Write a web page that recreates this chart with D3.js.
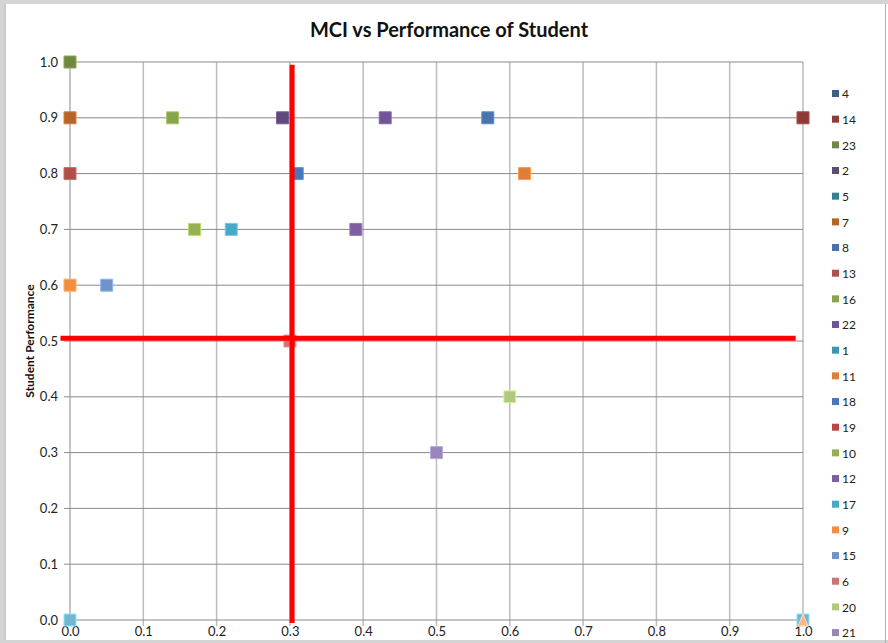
<!DOCTYPE html>
<html>
<head>
<meta charset="utf-8">
<script src="https://cdn.jsdelivr.net/npm/d3@7"></script>
<style>
  body { margin: 0; background: #fff; }
  svg { display: block; font-family: Lato, "Open Sans", sans-serif; }
</style>
</head>
<body>
<div id="chart"></div>
<script>
const width = 888;
const height = 643;

// series names in legend order
const seriesNames = ["4", "14", "23", "2", "5", "7", "8", "13", "16", "22", "1",
                     "11", "18", "19", "10", "12", "17", "9", "15", "6", "20", "21", "3", "24"];
const seriesColors = ["#3b5e8e", "#8e3a38", "#71893f", "#5e4b7c", "#357f93", "#b5652a",
                      "#4a73ae", "#b0504d", "#8aa34e", "#6f5596", "#3e97ae", "#dd7f38",
                      "#4876b8", "#ba4744", "#95b153", "#7d5fa0", "#46aac5", "#f48c42",
                      "#7293c9", "#cc7471", "#afc97f", "#9886b8", "#72b7cf", "#f9b590"];
// MCI value and student performance per series (null = no visible point)
const mciValues = [null, 1.0, 0.0, 0.29, null, 0.0, 0.57, 0.0, 0.14, 0.43, null,
                   0.62, 0.31, null, 0.17, 0.39, 0.22, 0.0, 0.05, 0.30, 0.60, 0.50, 0.0, 1.0];
const perfValues = [null, 0.9, 1.0, 0.9, null, 0.9, 0.9, 0.8, 0.9, 0.9, null,
                    0.8, 0.8, null, 0.7, 0.7, 0.7, 0.6, 0.6, 0.5, 0.4, 0.3, 0.0, 0.0];
const extraPoints = [{ name: "3", x: 1.0, y: 0.0 }]; // second point of series 3
const markerShapes = seriesNames.map(n => n === "24" ? "triangle" : "square");

const xTicks = [0, 0.1, 0.2, 0.3, 0.4, 0.5, 0.6, 0.7, 0.8, 0.9, 1.0];
const yTicks = [0, 0.1, 0.2, 0.3, 0.4, 0.5, 0.6, 0.7, 0.8, 0.9, 1.0];

// hand drawn quadrant lines (data units)
const splitX = 0.303, splitY = 0.505;

const margin = { top: 62, right: 85, bottom: 23, left: 70 };
const innerWidth = width - margin.left - margin.right;
const innerHeight = height - margin.top - margin.bottom;

const svg = d3.select("#chart").append("svg")
    .attr("width", width)
    .attr("height", height);

svg.append("rect").attr("width", width).attr("height", height).attr("fill", "#fff");

const chart = svg.append("g")
    .attr("transform", `translate(${margin.left}, ${margin.top})`);

const xScale = d3.scaleLinear().domain([0, 1]).range([0, innerWidth]);
const yScale = d3.scaleLinear().domain([0, 1]).range([innerHeight, 0]);

// vertical grid
chart.append("g")
    .selectAll("line")
    .data(xTicks.slice(1))
    .enter().append("line")
    .attr("x1", d => xScale(d)).attr("x2", d => xScale(d))
    .attr("y1", 0).attr("y2", innerHeight + 6)
    .attr("stroke", "#bdbdbd").attr("stroke-width", 1.5);

// horizontal grid
chart.append("g")
    .selectAll("line")
    .data(yTicks)
    .enter().append("line")
    .attr("x1", -6).attr("x2", innerWidth)
    .attr("y1", d => yScale(d)).attr("y2", d => yScale(d))
    .attr("stroke", "#8a8a8a").attr("stroke-width", 1);

// y axis line
chart.append("line")
    .attr("x1", 0).attr("x2", 0)
    .attr("y1", 0).attr("y2", innerHeight + 6)
    .attr("stroke", "#8a8a8a");

const yAxis = d3.axisLeft(yScale).tickValues(yTicks).tickSize(0).tickPadding(12)
    .tickFormat(d3.format(".1f"));
chart.append("g").call(yAxis)
    .call(g => g.select(".domain").remove())
    .selectAll("text")
    .style("font-size", "13px").style("font-family", "Lato, sans-serif").attr("fill", "#222");

const xAxis = d3.axisBottom(xScale).tickValues(xTicks).tickSize(0).tickPadding(7)
    .tickFormat(d3.format(".1f"));
chart.append("g").attr("transform", `translate(0, ${innerHeight})`).call(xAxis)
    .call(g => g.select(".domain").remove())
    .selectAll("text")
    .style("font-size", "13px").style("font-family", "Lato, sans-serif").attr("fill", "#222");

// data points
const points = [];
seriesNames.forEach((name, i) => {
    if (mciValues[i] !== null) {
        points.push({ name, x: mciValues[i], y: perfValues[i], color: seriesColors[i], shape: markerShapes[i], order: i });
    }
});
extraPoints.forEach(p => {
    const i = seriesNames.indexOf(p.name);
    points.push({ name: p.name, x: p.x, y: p.y, color: seriesColors[i], shape: markerShapes[i], order: i - 0.5 });
});
points.sort((a, b) => a.order - b.order);

const size = 12;
chart.selectAll(".dot")
    .data(points)
    .enter()
    .append("path")
    .attr("class", "dot")
    .attr("transform", d => `translate(${xScale(d.x)}, ${yScale(d.y)})`)
    .attr("d", d => d.shape === "triangle"
        ? `M0,${-size / 2}L${size / 2 - 1},${size / 2}L${-size / 2 + 1},${size / 2}Z`
        : `M${-size / 2},${-size / 2}h${size}v${size}h${-size}Z`)
    .attr("fill", d => d.color)
    .attr("stroke", d => d3.color(d.color).brighter(0.6))
    .attr("stroke-width", 1);

// red quadrant lines
chart.append("line")
    .attr("x1", xScale(splitX)).attr("x2", xScale(splitX))
    .attr("y1", yScale(0.995)).attr("y2", yScale(0) + 3)
    .attr("stroke", "#ff0000").attr("stroke-width", 5);
chart.append("line")
    .attr("x1", xScale(-0.013)).attr("x2", xScale(0.99))
    .attr("y1", yScale(splitY)).attr("y2", yScale(splitY))
    .attr("stroke", "#ff0000").attr("stroke-width", 5);

// title
svg.append("text")
    .attr("x", 449).attr("y", 37)
    .attr("text-anchor", "middle")
    .style("font-size", "20px").style("font-weight", "bold")
    .attr("fill", "#111")
    .text("MCI vs Performance of Student");

// y axis title
svg.append("text")
    .attr("transform", `translate(34, ${margin.top + yScale(0.5)}) rotate(-90)`)
    .attr("text-anchor", "middle")
    .style("font-size", "12px").style("font-weight", "bold")
    .attr("fill", "#111")
    .text("Student Performance");

// legend
const legend = svg.append("g").attr("transform", "translate(832, 94)");
const rows = legend.selectAll(".legend")
    .data(seriesNames)
    .enter().append("g")
    .attr("class", "legend")
    .attr("transform", (d, i) => `translate(0, ${i * 25.67})`);
rows.append("rect")
    .attr("x", 0).attr("y", -4)
    .attr("width", 7).attr("height", 7)
    .attr("fill", (d, i) => seriesColors[i]);
rows.append("text")
    .attr("x", 10).attr("y", 0)
    .attr("dy", ".35em")
    .style("font-size", "12px")
    .attr("fill", "#222")
    .text(d => d);

// window frame around the screenshot
svg.append("rect").attr("x", 0).attr("y", 0).attr("width", width).attr("height", 4).attr("fill", "#d4d4d4");
svg.append("rect").attr("x", 0).attr("y", 0).attr("width", 4).attr("height", height).attr("fill", "#d4d4d4");
svg.append("line").attr("x1", 5).attr("x2", 5).attr("y1", 4).attr("y2", height).attr("stroke", "#9a9a9a");
svg.append("rect").attr("x", 0).attr("y", 640).attr("width", width).attr("height", 3).attr("fill", "#d4d4d4");
svg.append("line").attr("x1", 885.5).attr("x2", 885.5).attr("y1", 4).attr("y2", height).attr("stroke", "#b0b0b0");
</script>
</body>
</html>
